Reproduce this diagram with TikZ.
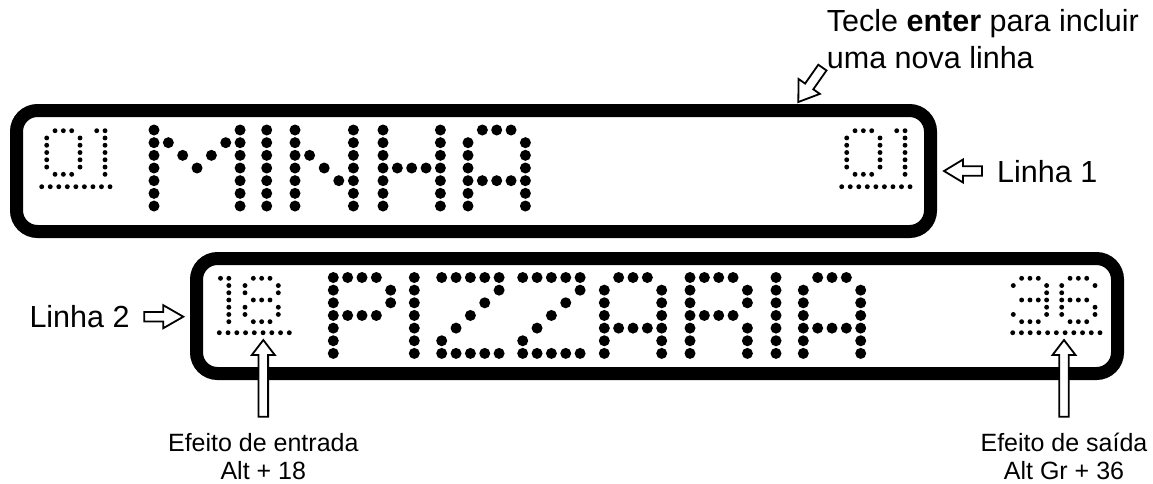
\documentclass[tikz,border=0pt]{standalone}
\usepackage{fontspec}
\setmainfont{Liberation Sans}
\makeatletter
\newcount\dmcol
\def\dm@scan#1{\ifx#1\relax\else\if#1X\fill[black] (\dmx+\the\dmcol*\dmpx,\dmy+\dmk*\dmpy) circle[radius=\dmr pt];\fi\advance\dmcol by 1 \expandafter\dm@scan\fi}
\newcommand\dmrow[1]{\dmcol=0 \dm@scan#1\relax}
\makeatother
\newcommand\dmglyph[2]{\def\dmx{#1}\foreach \dmrowstr [count=\dmk from 0] in #2 {\expandafter\dmrow\expandafter{\dmrowstr}}}
% big glyphs (X = dot, - = no dot)
\def\gM{X-----X,XX---XX,X-X-X-X,X--X--X,X-----X,X-----X,X-----X}
\def\gI{X,X,X,X,X,X,X}
\def\gN{X---X,X---X,XX--X,X-X-X,X--XX,X---X,X---X}
\def\gH{X---X,X---X,X---X,XXXXX,X---X,X---X,X---X}
\def\gA{-XXX-,X---X,X---X,X---X,XXXXX,X---X,X---X}
\def\gP{XXXX-,X---X,X---X,XXXX-,X----,X----,X----}
\def\gZ{XXXXX,----X,---X-,--X--,-X---,X----,XXXXX}
\def\gR{XXXX-,X---X,X---X,XXXX-,X---X,X---X,X---X}
% small glyphs
\def\sZero{-XXX-,X---X,X---X,X---X,X---X,X---X,-XXX-}
\def\sOne{XX,-X,-X,-X,-X,-X,-X}
\def\sEight{-XXX-,X---X,X---X,-XXX-,X---X,X---X,-XXX-}
\def\sThree{-XXX-,X---X,----X,-XXXX,----X,X---X,-XXX-}
\def\sSix{-XXX-,X---X,X----,XXXX-,X---X,X---X,-XXX-}
\newcommand\hollowarrow[7]{%
  \begin{scope}[shift={(#1,#2)},rotate=#3]
    \draw[arrowline] (0,0) -- (-#5,#6) -- (-#5,#7) -- (-#4,#7) -- (-#4,-#7) -- (-#5,-#7) -- (-#5,-#6) -- cycle;
  \end{scope}}
\begin{document}
\begin{tikzpicture}[x=1pt,y=-1pt,
  lcdbox/.style={draw=black,line width=13pt,rounded corners=21pt},
  arrowline/.style={draw=black,fill=white,line width=1.8pt,line join=miter},
  bigtext/.style={font=\fontsize{30.5}{36}\selectfont,inner sep=0pt},
  smalltext/.style={font=\fontsize{25}{30}\selectfont,inner sep=0pt}]
\useasboundingbox[fill=white] (0,0) rectangle (1153,483);

% display boxes
\draw[lcdbox] (16.5,110.5) rectangle (930.5,231.5);
\draw[lcdbox] (196.5,258.5) rectangle (1117.5,373.5);

% MINHA
\def\dmy{130}\def\dmpx{14.35}\def\dmpy{12.67}\def\dmr{5.5}
\dmglyph{154}{\gM}
\dmglyph{266.7}{\gI}
\def\dmpx{14.6}
\dmglyph{295}{\gN}
\def\dmpx{14.35}
\dmglyph{383}{\gH}
\dmglyph{468}{\gA}

% PIZZARIA
\def\dmy{277.5}\def\dmpy{12.65}
\dmglyph{333.3}{\gP}
\dmglyph{414.3}{\gI}
\dmglyph{441.7}{\gZ}
\dmglyph{522.7}{\gZ}
\dmglyph{604.3}{\gA}
\dmglyph{690}{\gR}
\dmglyph{776}{\gI}
\dmglyph{803.3}{\gA}

% small numbers, line 1
\def\dmy{130.7}\def\dmpx{8.33}\def\dmpy{7.27}\def\dmr{2.45}
\dmglyph{46.7}{\sZero}
\dmglyph{96.7}{\sOne}
\dmglyph{846.7}{\sZero}
\dmglyph{896.7}{\sOne}
\foreach \i in {0,1,2,3,4,5,6,7,8} {\fill (41.7+\i*8.54,186.7) circle[radius=2.45pt];}
\foreach \i in {0,1,2,3,4,5,6,7,8} {\fill (841.7+\i*8.54,186.7) circle[radius=2.45pt];}

% small numbers, line 2
\def\dmy{278.3}\def\dmpy{7.23}
\dmglyph{220.5}{\sOne}
\dmglyph{245}{\sEight}
\dmglyph{1013.3}{\sThree}
\dmglyph{1061.7}{\sSix}
\foreach \i in {0,1,2,3,4,5,6,7,8} {\fill (219.3+\i*8.75,332.7) circle[radius=2.45pt];}
\foreach \i in {0,1,2,3,4,5,6,7,8,9,10} {\fill (1012.7+\i*8.73,332.7) circle[radius=2.45pt];}

% hollow arrows
\hollowarrow{798.3}{102}{235}{42}{19}{13}{5}
\hollowarrow{944}{171}{180}{38}{19}{11.5}{4.7}
\hollowarrow{183.3}{316.7}{0}{39}{20}{11.5}{4.7}
\hollowarrow{263.3}{340}{90}{76.7}{15}{11.5}{4.8}
\hollowarrow{1064}{340}{90}{76.7}{15}{11.5}{4.8}

% labels
\node[bigtext,anchor=base west] (title1) at (826.7,31.7) {Tecle \textbf{enter} para incluir};
\node[bigtext,anchor=base west] (title2) at (826.7,68.3) {uma nova linha};
\node[bigtext,anchor=base west] (linha1) at (997,182) {Linha 1};
\node[bigtext,anchor=base west] (linha2) at (29.3,327.7) {Linha 2};
\node[smalltext,anchor=base] (entrada) at (263.3,451.7) {Efeito de entrada};
\node[smalltext,anchor=base] (alt18) at (263.3,479) {Alt + 18};
\node[smalltext,anchor=base] (saida) at (1064,451.7) {Efeito de saída};
\node[smalltext,anchor=base] (alt36) at (1064,479) {Alt Gr + 36};
\end{tikzpicture}
\end{document}
